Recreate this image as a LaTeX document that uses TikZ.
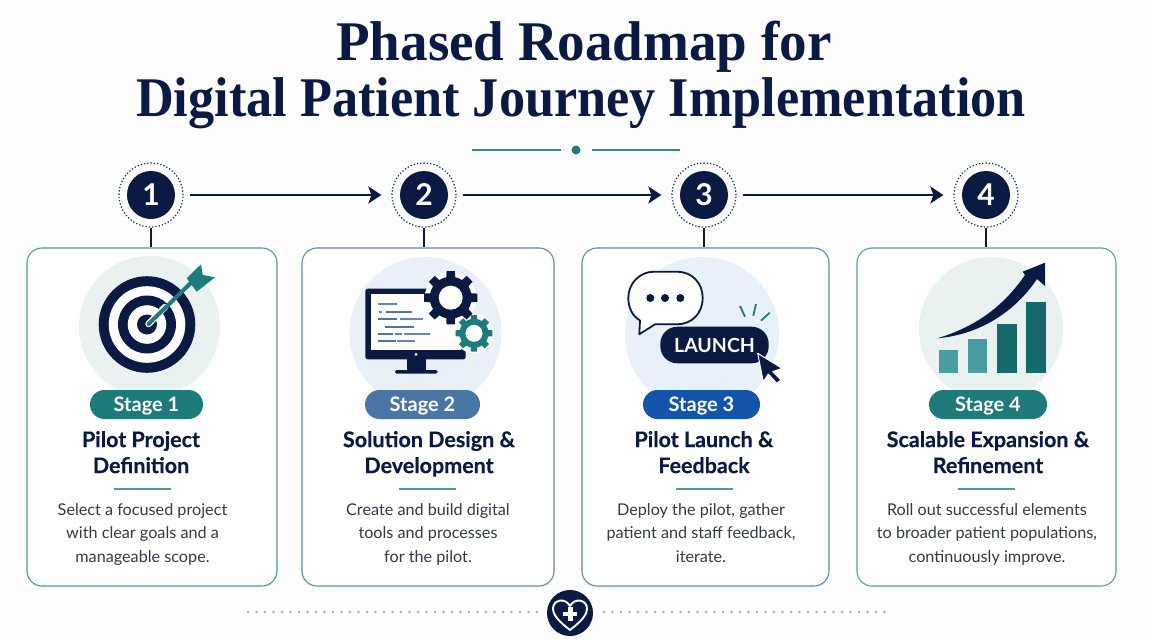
\documentclass[tikz,border=0pt]{standalone}
\usepackage{fontspec}
\setmainfont{Lato}
\newfontfamily\titlefont{Liberation Serif}
\usetikzlibrary{arrows.meta}
\definecolor{navy}{HTML}{0A1A42}
\definecolor{teal1}{HTML}{1D7B7C}
\definecolor{pill1}{HTML}{1D7B7C}
\definecolor{pill2}{HTML}{4A76A5}
\definecolor{pill3}{HTML}{1554AB}
\definecolor{pill4}{HTML}{1F7A7C}
\definecolor{edge1}{HTML}{4F9A9C}
\definecolor{edge2}{HTML}{6288AE}
\definecolor{edge3}{HTML}{5B86C4}
\definecolor{edge4}{HTML}{5D9C9E}
\definecolor{disc1}{HTML}{E9F1F1}
\definecolor{disc2}{HTML}{E9F0F8}
\definecolor{disc3}{HTML}{E8F0FA}
\definecolor{disc4}{HTML}{E9F1F1}
\definecolor{bodytext}{HTML}{343B47}
\definecolor{barlight}{HTML}{4A9C9E}
\definecolor{bardark}{HTML}{17696C}
\definecolor{dots}{HTML}{9FB0BE}
\definecolor{paper}{HTML}{FDFDFD}
\newcommand{\gearicon}[6]{%
  \foreach \a in {0,45,...,315} \fill[#6,shift={(#1,#2)},rotate=\a] (-#5,0) -- (-#5*.75,-#4) -- (#5*.75,-#4) -- (#5,0) -- cycle;
  \fill[#6] (#1,#2) circle (#3);
}
\tikzset{
  card/.style={draw,line width=1.1pt,rounded corners=15pt,fill=white,minimum height=338pt},
  ring/.style={circle,draw=navy!70!teal1,dash pattern=on 1.3pt off 2pt,line width=1.2pt,minimum size=64pt,inner sep=0pt},
  stepnum/.style={circle,fill=navy,text=white,minimum size=48pt,inner sep=0pt,font=\fontsize{30}{30}\selectfont\bfseries},
  flow/.style={-{Stealth[length=13pt,width=17pt,inset=3pt]},navy,line width=2.5pt,shorten <=6pt,shorten >=10pt},
  stem/.style={navy,line width=2.5pt},
  stagepill/.style={rounded corners=14.5pt,text=white,minimum height=29pt,inner sep=0pt,text height=14pt,text depth=1pt,font=\fontsize{20}{20}\selectfont\bfseries},
  heading/.style={text=navy,align=center,inner sep=0pt,font=\fontsize{21.5}{26}\selectfont\bfseries\addfontfeature{FakeBold=0.4},execute at begin node=\strut,execute at end node=\strut},
  bodynode/.style={text=bodytext,align=center,inner sep=0pt,font=\fontsize{16.2}{23.7}\selectfont,execute at begin node=\strut,execute at end node=\strut},
  rulerline/.style={edge1,line width=1.2pt},
}
\begin{document}
\begin{tikzpicture}[x=1pt,y=-1pt]
    \useasboundingbox[fill=paper] (0,0) rectangle (1152,640);
    \node[text=navy,align=center,inner sep=0pt,font=\titlefont\fontsize{56}{56}\selectfont\bfseries\addfontfeature{FakeStretch=0.933}] (title) at (581,75) {\hspace*{6pt}{\addfontfeature{FakeStretch=0.983}Phased Roadmap for}\\Digital Patient Journey Implementation};
    % divider under the title
    \node[circle,fill=teal1,minimum size=9pt,inner sep=0pt] (middot) at (576,150) {};
    \coordinate (divl) at (472,150);
    \coordinate (divr) at (680,150);
    \draw[edge1!80!navy,line width=1.1pt,shorten >=15pt] (divl) -- (middot.center);
    \draw[edge1!80!navy,line width=1.1pt,shorten <=16pt] (middot.center) -- (divr);
    % cards and numbered steps
    \foreach \i/\x/\w/\sx in {1/152/250/151,2/428/252/424,3/705.5/247/704,4/986.5/259/986} {
        \node[card,draw=edge\i,minimum width=\w pt] (card\i) at (\x,417) {};
        \node[ring] (ring\i) at (\sx,195) {};
        \node[stepnum] (step\i) at (\sx,195) {\i};
        \draw[stem] (ring\i) -- (ring\i |- card\i.north);
    }
    \draw[flow] (ring1) -- (ring2);
    \draw[flow] (ring2) -- (ring3);
    \draw[flow] (ring3) -- (ring4);
    % discs behind the icons
    \fill[disc1] (149.5,326.5) circle (70.5);
    \fill[disc2] (425.5,333) circle (76);
    \fill[disc3] (702,334) circle (77);
    \fill[disc4] (991,329) circle (72);
    % target
    \fill[navy] (147,324.5) circle (48.3);
    \fill[white] (147,324.5) circle (38.3);
    \fill[navy] (147,324.5) circle (29);
    \fill[white] (147,324.5) circle (19.3);
    \fill[navy] (147,324.5) circle (10);
    \draw[white,line width=6.5pt,line cap=round] (148.5,324) -- (165,307);
    \draw[teal1,line width=4pt,line cap=round] (148.5,324) -- (197,277);
    \fill[teal1] (186.7,278.3) -- (201,264.3) -- (202.7,275) -- (215,277.3) -- (196.7,291.7) -- cycle;
    % monitor with gears
    \fill[navy,rounded corners=2.5pt] (365.3,288.7) rectangle (465.7,359.3);
    \fill[white] (371,294) rectangle (461,350);
    \fill[white] (416,354.3) circle (1.5);
    \fill[navy] (407.3,359) rectangle (426,370);
    \fill[navy,rounded corners=1.5pt] (395,370) rectangle (437.7,373.5);
    \foreach \xa/\xb/\y/\c in {378/397/304/edge2,379/382/312/edge2,386/412/312/pill2,378/397/319/pill2,400/423/319/edge2,385/414/327/pill2,378/393/334/pill2,395/402/334/edge2,404/430/334/edge2,378/396/341/pill2,397/415/341/edge2}
        \draw[\c,line width=1.2pt] (\xa,\y) -- (\xb,\y);
    \fill[white] (450.7,297.7) circle (26);
    \fill[white] (474,333.3) circle (20);
    \gearicon{450.7}{297.7}{21}{26.7}{5.5}{navy}
    \fill[white] (450.7,297.7) circle (12);
    \gearicon{474}{333.3}{14.5}{18.3}{4}{teal1}
    \fill[white] (474,333.3) circle (8.5);
    % chat bubble and launch button
    \draw[navy,fill=white,line width=1.8pt,line join=round] (654,271.7) -- (677,271.7) .. controls (692,271.7) and (702.7,283) .. (702.7,298) .. controls (702.7,313) and (692,324.3) .. (677,324.3) -- (655,324.3) -- (639.3,334.3) -- (640,320.5) .. controls (632,316) and (628.3,307) .. (628.3,298) .. controls (628.3,283) and (640,271.7) .. (654,271.7) -- cycle;
    \foreach \x in {650.3,665,680.3} \fill[navy] (\x,298) circle (4);
    \node[fill=navy,rounded corners=17pt,text=white,minimum width=108.4pt,minimum height=36.6pt,inner sep=0pt,font=\fontsize{19.5}{20}\selectfont\bfseries] (launch) at (714.5,345) {LAUNCH};
    \draw[teal1,line width=1.8pt] (740,306) -- (745,316.7);
    \draw[teal1,line width=1.8pt] (756,304) -- (753.3,315.7);
    \draw[teal1,line width=1.8pt] (769.7,312.7) -- (761,320.7);
    \filldraw[navy,draw=white,line width=1pt,line join=round] (757.7,353.3) -- (782,368.3) -- (772.7,371.7) -- (781,380) -- (776.7,383.3) -- (768.3,374) -- (763.3,381.7) -- cycle;
    % growth chart
    \fill[barlight] (939.3,349.7) rectangle (958.3,373.3);
    \fill[barlight] (968.3,338.7) rectangle (987.3,373.3);
    \fill[bardark] (997.3,323.7) rectangle (1016.7,373.3);
    \fill[bardark] (1026.3,302) rectangle (1045.7,373.3);
    \fill[navy] (937.3,338.3) .. controls (975,327) and (1003,307) .. (1025,275) -- (1022.7,271.7) -- (1045,262.7) -- (1045,286) -- (1037,279) .. controls (1012,316) and (975,335) .. (937.3,338.3) -- cycle;
    % stage labels, titles, text
    \foreach \i/\x/\w/\tx/\bx/\rx/\head/\body in {
        1/146.5/113/141/142.5/142.5/{Pilot Project\\Definition}/{Select a focused project\\with clear goals and a\\manageable scope.},
        2/422.5/115/429/428/427/{Solution Design \&\\Development}/{Create and build digital\\tools and processes\\for the pilot.},
        3/701.5/117/704/701/704.5/{Pilot Launch \&\\Feedback}/{Deploy the pilot, gather\\patient and staff feedback,\\iterate.},
        4/988/118/988/987/986.5/{Scalable Expansion \&\\Refinement}/{Roll out successful elements\\to broader patient populations,\\continuously improve.}} {
        \node[stagepill,fill=pill\i,minimum width=\w pt] (stage\i) at (\x,404.5) {Stage \i};
        \node[heading] (head\i) at (\tx,456) {\head};
        \coordinate (rulel\i) at (\rx-28.5,489);
        \coordinate (ruler\i) at (\rx+28.5,489);
        \draw[rulerline] (rulel\i) -- (ruler\i);
        \node[bodynode] (body\i) at (\bx,536.5) {\body};
    }
    % footer
    \foreach \k in {0,...,34} \fill[dots] (248+\k*8.5,612) circle (1.3);
    \foreach \k in {0,...,33} \fill[dots] (604+\k*8.5,612) circle (1.3);
    \node[circle,fill=navy,minimum size=46pt,inner sep=0pt] (badge) at (570,613) {};
    \draw[white,line width=1.9pt,line join=round] (570,630) .. controls (561,623) and (553,616) .. (553,608.5) .. controls (553,600) and (565,597) .. (570,606) .. controls (575,597) and (587,600) .. (587,608.5) .. controls (587,616) and (579,623) .. (570,630) -- cycle;
    \fill[white] (568,607) rectangle (572.6,621);
    \fill[white] (563.3,611.7) rectangle (577.3,616.3);
\end{tikzpicture}
\end{document}
